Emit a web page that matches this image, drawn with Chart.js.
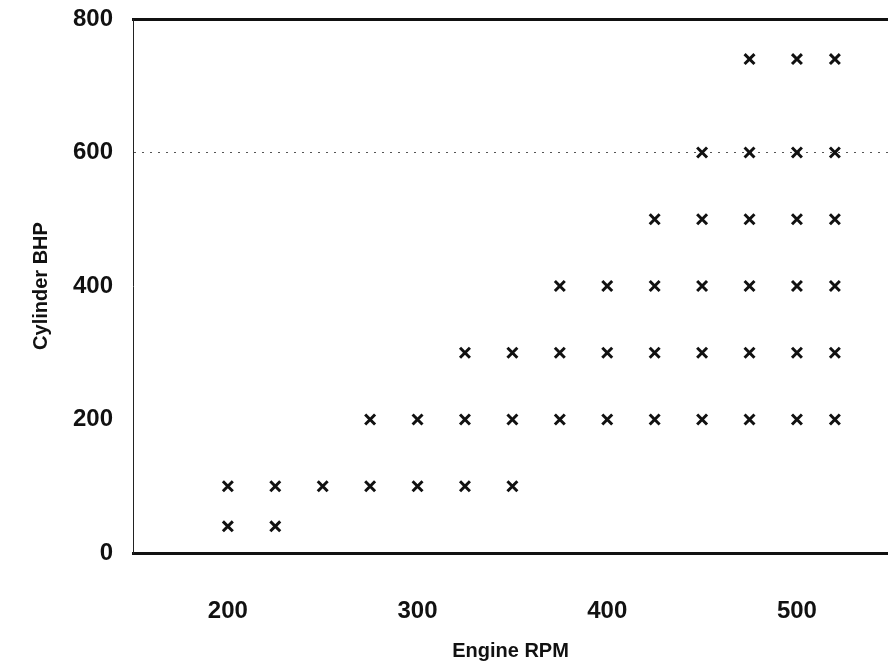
<!DOCTYPE html>
<html>
<head>
<meta charset="utf-8">
<script src="https://cdn.jsdelivr.net/npm/chart.js@4"></script>
<style>
  html, body { margin: 0; padding: 0; background: #fff; overflow: hidden; }
  #wrap { width: 888px; height: 667px; }
</style>
</head>
<body>
<div id="wrap"><canvas id="rpmChart" width="888" height="667"></canvas></div>
<script>
// --- data ---
const rpmValues = [200, 200, 225, 225, 250, 275, 275, 300, 300,
  325, 325, 325, 350, 350, 350, 375, 375, 375, 400, 400, 400,
  425, 425, 425, 425, 450, 450, 450, 450, 450,
  475, 475, 475, 475, 475, 475, 500, 500, 500, 500, 500, 500,
  520, 520, 520, 520, 520, 520];
const bhpValues = [40, 100, 40, 100, 100, 100, 200, 100, 200,
  100, 200, 300, 100, 200, 300, 200, 300, 400, 200, 300, 400,
  200, 300, 400, 500, 200, 300, 400, 500, 600,
  200, 300, 400, 500, 600, 740, 200, 300, 400, 500, 600, 740,
  200, 300, 400, 500, 600, 740];
const xTicks = [200, 300, 400, 500];
const yTicks = [0, 200, 400, 600, 800];
const xTitle = 'Engine RPM';
const yTitle = 'Cylinder BHP';

const points = rpmValues.map((x, i) => ({ x: x, y: bhpValues[i] }));
const labelFont = { family: 'Liberation Sans', size: 24, weight: 'bold' };
const titleFont = { family: 'Liberation Sans', size: 20, weight: 'bold' };

// keep the plot box fixed (no extra room for overflowing labels)
function noPad(s) {
  s.paddingTop = 0; s.paddingBottom = 0;
  s.paddingLeft = 0; s.paddingRight = 0;
}

new Chart(document.getElementById('rpmChart').getContext('2d'), {
  type: 'scatter',
  data: {
    datasets: [{
      data: points,
      pointStyle: 'crossRot',
      pointRadius: 7,
      pointBorderWidth: 3,
      borderColor: '#111',
      backgroundColor: '#111'
    }]
  },
  options: {
    responsive: false,
    animation: false,
    layout: { padding: 0, autoPadding: false },
    plugins: { legend: { display: false }, tooltip: { enabled: false } },
    scales: {
      x: {
        type: 'linear',
        position: 'bottom',
        min: 150,
        max: 548,
        afterBuildTicks: s => { s.ticks = xTicks.map(v => ({ value: v })); },
        afterFit: s => { s.height = 114; noPad(s); },
        grid: { display: false, drawTicks: false },
        border: { display: true, color: '#111', width: 3 },
        ticks: { color: '#111', font: labelFont, padding: 44 },
        title: { display: true, text: xTitle, color: '#111', font: titleFont, padding: { top: 0, bottom: 4 } }
      },
      xTop: {
        type: 'linear',
        position: 'top',
        min: 150,
        max: 548,
        afterFit: s => { s.height = 19; noPad(s); },
        grid: { display: false, drawTicks: false },
        border: { display: true, color: '#111', width: 3 },
        ticks: { display: false }
      },
      y: {
        type: 'linear',
        min: 0,
        max: 800,
        afterBuildTicks: s => { s.ticks = yTicks.map(v => ({ value: v })); },
        afterFit: s => { s.width = 133; noPad(s); },
        grid: {
          drawTicks: false,
          color: c => (c.tick && c.tick.value === 600) ? '#555' : 'rgba(0,0,0,0)',
          lineWidth: 1
        },
        border: { display: true, color: '#222', width: 1, dash: [2, 6] },
        ticks: { color: '#111', font: labelFont, padding: 20 },
        title: { display: true, text: yTitle, color: '#111', font: titleFont, padding: { top: 29, bottom: 0 } }
      }
    }
  }
});
</script>
</body>
</html>
